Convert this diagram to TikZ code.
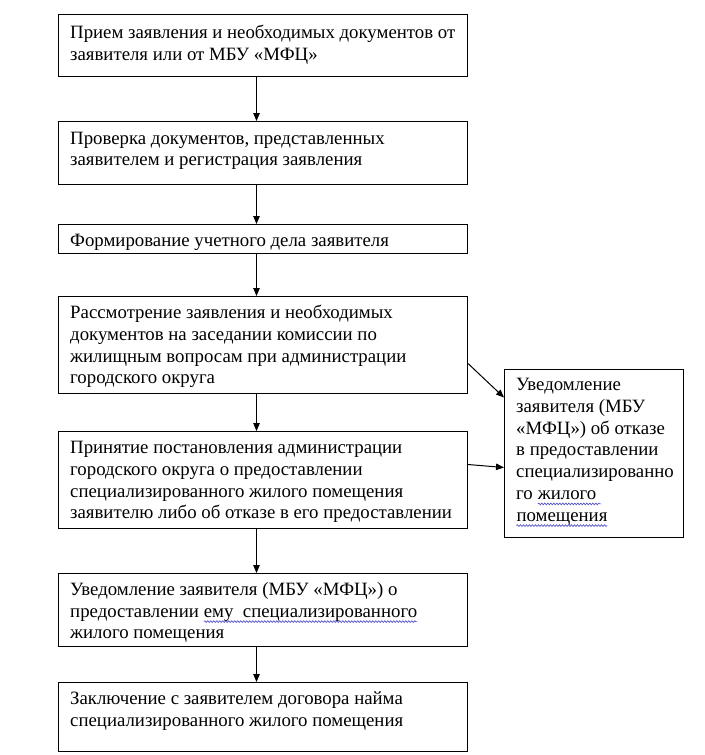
\documentclass[tikz,border=0pt]{standalone}
\usepackage{fontspec}
\setmainfont{Liberation Serif}
\usetikzlibrary{arrows.meta,decorations.pathmorphing}
\definecolor{wavec}{RGB}{70,70,200}
\newcommand\mainfs{\fontsize{18.8bp}{21.7bp}\selectfont}
\newcommand\wavy[1]{\tikz[baseline=(w.base),x=1cm,y=1cm]{\node[inner sep=0pt,outer sep=0pt,font=\mainfs] (w) {#1};
  \draw[wavec, line width=0.6bp, decorate, decoration={snake,amplitude=0.9bp,segment length=3bp}] ([yshift=-4.5bp]w.base west) -- ([yshift=-4.5bp]w.base east);}}
\tikzset{
  box/.style={draw, line width=1bp, inner sep=0pt, anchor=north west},
  txt/.style={anchor=north west, inner sep=0pt, align=left, font=\mainfs},
  arr/.style={line width=1bp, -{Triangle[length=8bp,width=6.5bp]}}
}
\begin{document}
\begin{tikzpicture}[x=1bp,y=-1bp]
\useasboundingbox[fill=white] (0,0) rectangle (705,755);
% boxes
\node[box, minimum width=409bp, minimum height=62bp] (b1) at (58,14) {};
\node[box, minimum width=409bp, minimum height=63bp] (b2) at (58,121) {};
\node[box, minimum width=409bp, minimum height=29bp] (b3) at (58,224) {};
\node[box, minimum width=409bp, minimum height=97bp] (b4) at (58,296) {};
\node[box, minimum width=409bp, minimum height=97bp] (b5) at (58,431) {};
\node[box, minimum width=409bp, minimum height=73bp] (b6) at (58,573) {};
\node[box, minimum width=409bp, minimum height=69bp] (b7) at (58,682) {};
\node[box, minimum width=179bp, minimum height=168bp] (r) at (504,369) {};
% texts (first baseline ~23bp below box top; strut height 15.19bp)
\node[txt] (t1) at (70,23.5) {\strut Прием заявления и необходимых документов от\\заявителя или от МБУ «МФЦ»};
\node[txt] (t2) at (70,128.8) {\strut Проверка документов, представленных\\заявителем и регистрация заявления};
\node[txt] (t3) at (70,230.8) {\strut Формирование учетного дела заявителя};
\node[txt] (t4) at (70,303.5) {\strut Рассмотрение заявления и необходимых\\документов на заседании комиссии по\\жилищным вопросам при администрации\\городского округа};
\node[txt] (t5) at (70,438.5) {\strut Принятие постановления администрации\\городского округа о предоставлении\\специализированного жилого помещения\\заявителю либо об отказе в его предоставлении};
\node[txt] (t6) at (70,580) {\strut Уведомление заявителя (МБУ «МФЦ») о\\предоставлении \wavy{ему\ \ специализированного}\\жилого помещения};
\node[txt] (t7) at (70,689.5) {\strut Заключение с заявителем договора найма\\специализированного жилого помещения};
\node[txt] (tr) at (516,375.5) {\strut Уведомление\\заявителя (МБУ\\«МФЦ») об отказе\\в предоставлении\\специализированно\\го \wavy{жилого\ }\\\wavy{помещения}};
% connectors
\draw[arr] ([xshift=-6.5bp]b1.south) -- ([xshift=-6.5bp]b2.north);
\draw[arr] ([xshift=-6.5bp]b2.south) -- ([xshift=-6.5bp]b3.north);
\draw[arr] ([xshift=-6.5bp]b3.south) -- ([xshift=-6.5bp]b4.north);
\draw[arr] ([xshift=-6.5bp]b4.south) -- ([xshift=-6.5bp]b5.north);
\draw[arr] ([xshift=-6.5bp]b5.south) -- ([xshift=-6.5bp]b6.north);
\draw[arr] ([xshift=-6.5bp]b6.south) -- ([xshift=-6.5bp]b7.north);
\draw[arr] ([yshift=-18.5bp]b4.east) -- ([yshift=56bp]r.west);
\draw[arr] ([yshift=15.5bp]b5.east) -- ([yshift=-14bp]r.west);
\end{tikzpicture}
\end{document}
